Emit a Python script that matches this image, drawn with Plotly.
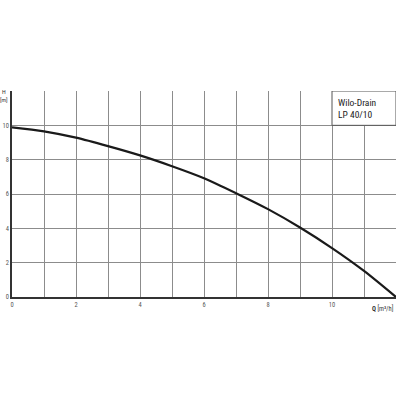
import plotly.graph_objects as go

# pump curve
q_values = [0, 1, 2, 3, 4, 5, 6, 7, 8, 9, 10, 11, 12]
h_values = [9.88, 9.65, 9.28, 8.79, 8.25, 7.62, 6.92, 6.05, 5.12, 4.05, 2.85, 1.52, 0]

x_ticks = list(range(0, 13))
x_labels = [str(v) if v % 2 == 0 and v < 12 else "" for v in x_ticks]
y_ticks = [0, 2, 4, 6, 8, 10, 12]
y_labels = ["0", "2", "4", "6", "8", "10", ""]

font = "Liberation Sans Narrow, Roboto Condensed, Arial Narrow, DejaVu Sans Condensed, sans-serif"
grid = "#8c8c8c"

fig = go.Figure()
fig.add_trace(go.Scatter(
    x=q_values, y=h_values,
    mode="lines",
    line=dict(color="#1a1a1a", width=2.2, shape="spline", smoothing=0.8),
    showlegend=False,
    hoverinfo="skip",
    cliponaxis=True,
))

# legend box in the top right corner
fig.add_shape(type="rect", xref="x", yref="y", x0=10, x1=12, y0=10, y1=12,
              fillcolor="white", line=dict(color="#555555", width=1), layer="above")
fig.add_annotation(x=10.12, y=11.75, xref="x", yref="y", xanchor="left", yanchor="top",
                   text="Wilo-Drain<br>LP 40/10", showarrow=False, align="left",
                   font=dict(family=font, size=9.5, color="#222222"))

# axis titles
fig.add_annotation(x=0, y=1, xref="paper", yref="paper", xanchor="right", yanchor="middle",
                   xshift=-2, yshift=-4, text="H<br>[m]", showarrow=False, align="center",
                   font=dict(family=font, size=6, color="#333333"))
fig.add_annotation(x=1, y=0, xref="paper", yref="paper", xanchor="right", yanchor="top",
                   yshift=-5, text="<b>Q</b> [m³/h]", showarrow=False,
                   font=dict(family=font, size=6.5, color="#333333"))

fig.update_xaxes(range=[0, 12], tickvals=x_ticks, ticktext=x_labels, automargin=False,
                 showgrid=True, gridcolor=grid, gridwidth=1,
                 showline=True, linecolor="#333333", linewidth=1.5, mirror=False,
                 zeroline=False, ticks="", ticklen=0,
                 tickfont=dict(family=font, size=6.5, color="#555555"))
fig.update_yaxes(range=[0, 12], tickvals=y_ticks, ticktext=y_labels, automargin=False,
                 showgrid=True, gridcolor=grid, gridwidth=1,
                 showline=True, linecolor="#333333", linewidth=1.5, mirror=False,
                 zeroline=False, ticks="", ticklen=0,
                 tickfont=dict(family=font, size=6.5, color="#555555"))

fig.update_layout(
    width=400, height=400,
    margin=dict(l=12, r=4, t=91, b=103),
    plot_bgcolor="white", paper_bgcolor="white",
)

fig.write_html("out.html", config={"displayModeBar": False},
               post_script="document.body.style.margin='0';")
